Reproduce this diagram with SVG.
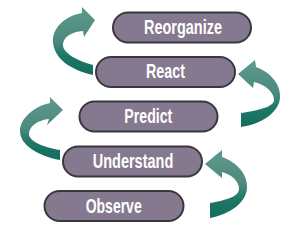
<svg xmlns="http://www.w3.org/2000/svg" width="293" height="230" viewBox="0 0 293 230">
<style>
.pill{fill:#85798f;stroke:#3a373f;stroke-width:2}
.lbl{font-family:"Liberation Sans Narrow","Liberation Sans",Arial,sans-serif;font-weight:bold;font-size:20.5px;fill:#ffffff;text-anchor:middle}
.arr{fill:url(#teal)}
</style>
<defs>
<linearGradient id="teal" x1="0" y1="0" x2="0" y2="1">
<stop offset="0" stop-color="#5f988c"/>
<stop offset="0.5" stop-color="#4b8a7e"/>
<stop offset="0.72" stop-color="#1f7766"/>
<stop offset="1" stop-color="#136e5d"/>
</linearGradient>
</defs>
<rect width="293" height="230" fill="#ffffff"/>
<g id="connectors">
<path class="arr" d="M95 20 L82 7 L82 13 C65 16 52 28 53 42 C54 58 70 70 93 75 L93 65 C75 60 62 52 63 44 C64 36 72 32 83 31 L84 37 Z"/>
<path class="arr" d="M238 74 L255 60 L256 67 C270 72 281 84 280 98 C279 112 262 124 241 127 L241 113 C262 110 275 106 274 99 C273 91 264 84 254 82 L253 88 Z"/>
<path class="arr" d="M63 110 L50 97 L50 103 C35 106 20 118 20 131 C20 145 38 156 60 160 L60 150 C42 147 29 141 29 134 C29 126 38 120 49 119 L47 125 Z"/>
<path class="arr" d="M205 164 L222 150 L222 157 C237 162 248 175 247 188 C246 203 230 214 210 218 L210 203 C228 200 239 196 239 189 C239 181 232 175 222 172 L222 178 Z"/>
</g>
<g id="reorganize">
<rect class="pill" x="113" y="12.5" width="138" height="30" rx="15"/>
<text class="lbl" x="183" y="34" textLength="78" lengthAdjust="spacingAndGlyphs">Reorganize</text>
</g>
<g id="react">
<rect class="pill" x="96" y="57" width="139" height="30" rx="15"/>
<text class="lbl" x="165.5" y="78.3" textLength="39" lengthAdjust="spacingAndGlyphs">React</text>
</g>
<g id="predict">
<rect class="pill" x="79.5" y="101.5" width="138" height="30" rx="15"/>
<text class="lbl" x="148.3" y="123" textLength="48" lengthAdjust="spacingAndGlyphs">Predict</text>
</g>
<g id="understand">
<rect class="pill" x="63" y="146.5" width="139" height="30" rx="15"/>
<text class="lbl" x="133" y="168" textLength="80.6" lengthAdjust="spacingAndGlyphs">Understand</text>
</g>
<g id="observe">
<rect class="pill" x="44.5" y="191" width="139" height="30" rx="15"/>
<text class="lbl" x="113.7" y="212.5" textLength="56" lengthAdjust="spacingAndGlyphs">Observe</text>
</g>
</svg>
